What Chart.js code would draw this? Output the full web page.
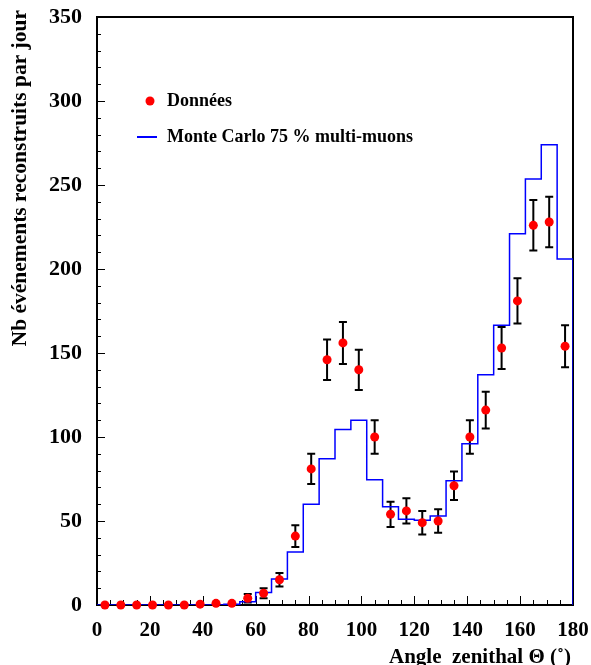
<!DOCTYPE html>
<html>
<head>
<meta charset="utf-8">
<script src="https://cdn.jsdelivr.net/npm/chart.js@4.4.1/dist/chart.umd.min.js"></script>
<style>
html, body { margin: 0; padding: 0; background: #fff; }
</style>
</head>
<body>
<canvas id="graficoZenith" width="591" height="665"></canvas>
<script>
// Données : centre des bins (6 degrés)
const angles = [3, 9, 15, 21, 27, 33, 39, 45, 51, 57, 63, 69, 75, 81, 87, 93, 99, 105, 111, 117, 123, 129, 135, 141, 147, 153, 159, 165, 171, 177];
const donnees = [0, 0, 0, 0, 0, 0, 0.5, 1, 1, 4, 7, 15, 41, 81, 146, 156, 140, 100, 54, 56, 49, 50, 71, 100, 116, 153, 181, 226, 228, 154];
const erreurs = [0, 0, 0, 0, 0, 0, 0.7, 1, 1, 2.5, 3, 4, 6.5, 9, 12, 12.5, 12, 10, 7.5, 7.5, 7, 7, 8.5, 10, 11, 12.5, 13.5, 15, 15, 12.5];
// Monte Carlo 75 % multi-muons (meme binning)
const monteCarlo = [0, 0, 0, 0, 0, 0, 0, 0, 0.5, 2, 7.5, 15.5, 31.5, 60, 87, 104.5, 110, 74.5, 58.5, 51, 50.5, 53, 74, 96, 137, 166.5, 221, 253.5, 274, 206];
const xTicks = [0, 20, 40, 60, 80, 100, 120, 140, 160, 180];
const yTicks = [0, 50, 100, 150, 200, 250, 300, 350];

const demiBin = (angles[1] - angles[0]) / 2;

// histogramme : bords gauches + fermeture à droite
const histo = angles.map((a, i) => ({ x: a - demiBin, y: monteCarlo[i] }));
histo.push({ x: angles[angles.length - 1] + demiBin, y: monteCarlo[monteCarlo.length - 1] });
histo.push({ x: angles[angles.length - 1] + demiBin, y: 0 });

const police = '"Liberation Serif", "Times New Roman", serif';

const cadre = {
    id: 'cadre',
    beforeDatasetsDraw(chart) {
        const { ctx, chartArea: a, scales: { x, y } } = chart;
        ctx.save();
        ctx.strokeStyle = '#000';
        ctx.lineWidth = 2;
        ctx.strokeRect(a.left, a.top, a.right - a.left, a.bottom - a.top);
        // petites graduations vers l'intérieur
        ctx.lineWidth = 1;
        ctx.beginPath();
        for (let v = 0; v <= 180; v += 5) {
            const px = Math.round(x.getPixelForValue(v)) + 0.5;
            const l = v % 20 === 0 ? 9 : 5;
            ctx.moveTo(px, a.bottom);
            ctx.lineTo(px, a.bottom - l);
        }
        for (let v = 0; v <= 350; v += 10) {
            const py = Math.round(y.getPixelForValue(v)) + 0.5;
            const l = v % 50 === 0 ? 8 : 4;
            ctx.moveTo(a.left, py);
            ctx.lineTo(a.left + l, py);
        }
        ctx.stroke();
        // barres d'erreur
        ctx.lineWidth = 2;
        ctx.beginPath();
        angles.forEach((ang, i) => {
            if (!erreurs[i] || erreurs[i] < 2) return;
            const px = x.getPixelForValue(ang);
            const yh = y.getPixelForValue(donnees[i] + erreurs[i]);
            const yb = y.getPixelForValue(Math.max(0, donnees[i] - erreurs[i]));
            ctx.moveTo(px, yh); ctx.lineTo(px, yb);
            ctx.moveTo(px - 4, yh); ctx.lineTo(px + 4, yh);
            ctx.moveTo(px - 4, yb); ctx.lineTo(px + 4, yb);
        });
        ctx.stroke();
        ctx.restore();
    },
    afterDraw(chart) {
        const { ctx, chartArea: a } = chart;
        ctx.save();
        ctx.fillStyle = '#000';
        // titre axe x
        ctx.font = 'bold 21px ' + police;
        ctx.textAlign = 'right';
        ctx.textBaseline = 'alphabetic';
        ctx.fillText('Angle  zenithal \u0398 (\u02da)', a.right - 2, 663);
        // titre axe y
        ctx.font = 'bold 21.5px ' + police;
        ctx.translate(20, 10);
        ctx.rotate(-Math.PI / 2);
        ctx.textAlign = 'right';
        ctx.textBaseline = 'middle';
        ctx.fillText('Nb \u00e9v\u00e9nements reconstruits par jour', 0, 0);
        ctx.restore();

        // légende
        ctx.save();
        ctx.font = 'bold 18px ' + police;
        ctx.textBaseline = 'middle';
        ctx.textAlign = 'left';
        ctx.fillStyle = 'red';
        ctx.beginPath();
        ctx.arc(a.left + 53, a.top + 84, 4.5, 0, Math.PI * 2);
        ctx.fill();
        ctx.fillStyle = '#000';
        ctx.fillText('Donn\u00e9es', a.left + 70, a.top + 84);
        ctx.strokeStyle = 'blue';
        ctx.lineWidth = 2;
        ctx.beginPath();
        ctx.moveTo(a.left + 40, a.top + 120);
        ctx.lineTo(a.left + 60, a.top + 120);
        ctx.stroke();
        ctx.fillText('Monte Carlo 75 % multi-muons', a.left + 70, a.top + 120);
        ctx.restore();
    }
};

const ctx = document.getElementById('graficoZenith').getContext('2d');

new Chart(ctx, {
    type: 'scatter',
    data: {
        datasets: [{
            label: 'Donn\u00e9es',
            data: angles.map((a, i) => ({ x: a, y: donnees[i] })),
            backgroundColor: 'red',
            borderColor: 'red',
            pointRadius: 4.5,
            pointBorderWidth: 0,
            showLine: false,
            clip: false
        }, {
            label: 'Monte Carlo 75 % multi-muons',
            type: 'line',
            data: histo,
            borderColor: 'blue',
            borderWidth: 1.5,
            pointRadius: 0,
            stepped: 'before',
            fill: false
        }]
    },
    options: {
        responsive: false,
        animation: false,
        layout: { padding: { top: 17, right: 18, left: 0, bottom: 0 } },
        plugins: {
            legend: { display: false },
            tooltip: { enabled: false }
        },
        scales: {
            x: {
                type: 'linear',
                min: 0,
                max: 180,
                afterFit(s) { s.height = 60; s.paddingLeft = 0; s.paddingRight = 0; },
                afterBuildTicks(s) { s.ticks = xTicks.map(v => ({ value: v })); },
                grid: { display: false },
                border: { display: false },
                ticks: {
                    color: '#000',
                    padding: 5,
                    maxRotation: 0,
                    font: { family: police, size: 21, weight: 'bold' }
                }
            },
            y: {
                min: 0,
                max: 350,
                afterFit(s) { s.width = 97; s.paddingTop = 0; s.paddingBottom = 0; },
                afterBuildTicks(s) { s.ticks = yTicks.map(v => ({ value: v })); },
                grid: { display: false },
                border: { display: false },
                ticks: {
                    color: '#000',
                    padding: 7,
                    font: { family: police, size: 22, weight: 'bold' }
                }
            }
        }
    },
    plugins: [cadre]
});
</script>
</body>
</html>
